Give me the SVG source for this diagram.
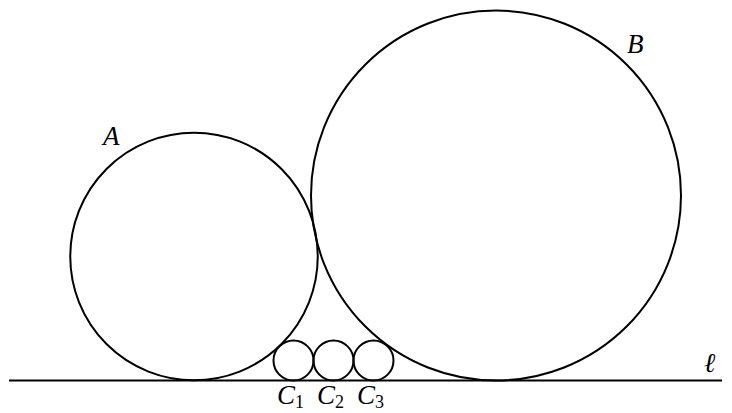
<svg xmlns="http://www.w3.org/2000/svg" width="732" height="413" viewBox="0 0 732 413">
<style>
.c{fill:none;stroke:#000;stroke-width:2}
.t{font-family:"Liberation Serif","DejaVu Serif",serif;font-style:italic;font-size:27px;fill:#000}
.s{font-family:"Liberation Serif","DejaVu Serif",serif;font-style:normal;font-size:18px}
</style>
<rect width="732" height="413" fill="#fff"/>
<g id="connectors">
<line id="line-l" x1="9" y1="380.5" x2="722" y2="380.5" stroke="#000" stroke-width="2"/>
</g>
<g id="circleA"><circle class="c" cx="194" cy="256.5" r="123.75"/><text class="t" x="103" y="145">A</text></g>
<g id="circleB"><circle class="c" cx="496" cy="195.5" r="185"/><text class="t" x="627" y="53">B</text></g>
<g id="C1"><circle class="c" cx="293.5" cy="360.5" r="20"/><text class="t" x="277" y="404">C<tspan class="s" dy="4">1</tspan></text></g>
<g id="C2"><circle class="c" cx="333.5" cy="360.5" r="20"/><text class="t" x="317" y="404">C<tspan class="s" dy="4">2</tspan></text></g>
<g id="C3"><circle class="c" cx="373.5" cy="360.5" r="20"/><text class="t" x="357" y="404">C<tspan class="s" dy="4">3</tspan></text></g>
<g id="label-l"><text class="t" x="704" y="372">ℓ</text></g>
</svg>
